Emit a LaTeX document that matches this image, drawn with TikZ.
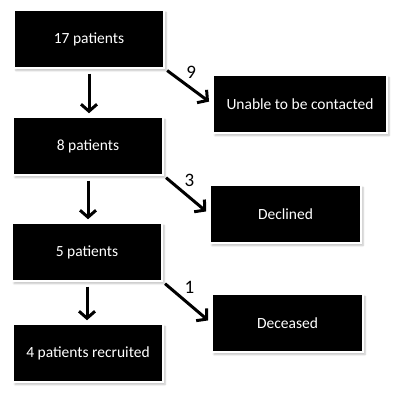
\documentclass[tikz,border=0pt]{standalone}
\usepackage{fontspec}
\setmainfont{Carlito}
\usetikzlibrary{arrows.meta, shadows.blur}

\begin{document}
\begin{tikzpicture}[x=1pt, y=-1pt,
    stage/.style={
        fill=black, draw=white, line width=1.5pt, text=white,
        minimum width=150pt, minimum height=58pt, inner sep=0pt,
        font=\fontsize{15.5}{18}\selectfont,
        blur shadow={shadow blur steps=5, shadow blur extra rounding=0pt,
                     shadow xshift=2pt, shadow yshift=-2.5pt, shadow opacity=25}
    },
    flow/.style={-{Straight Barb[length=7pt, width=16pt, line width=3pt]},
                 line width=3pt, black},
    count/.style={font=\fontsize{19}{21}\selectfont, text=black, inner sep=1pt},
]
    \useasboundingbox (0,0) rectangle (400,395);

    % --- main column ---
    \node[stage] (all)      at (89,39)  {17 patients};
    \node[stage] (reached)  at (88,146) {8 patients};
    \node[stage] (willing)  at (87,252) {5 patients};
    \node[stage] (recruit)  at (88,353) {4 patients recruited};

    % --- exclusions ---
    \node[stage, minimum width=174pt] (lost)    at (300,104)   {Unable to be contacted};
    \node[stage, minimum width=151pt] (refused) at (285.5,214) {Declined};
    \node[stage, minimum width=151pt] (died)    at (287.5,323) {Deceased};

    % --- arrows down ---
    \draw[flow, shorten <=5pt, shorten >=3pt] (all.south) -- (all.south |- reached.north);
    \draw[flow, shorten <=5pt, shorten >=3pt] (reached.south) -- (reached.south |- willing.north);
    \draw[flow, shorten <=5pt, shorten >=3pt] (willing.south) -- (willing.south |- recruit.north);

    % --- arrows out ---
    \draw[flow, shorten <=3pt, shorten >=4pt] (all.south east) -- (lost.west)
          node[count, pos=0.38, above right=1pt] {9};
    \draw[flow, shorten <=3pt, shorten >=4pt] (reached.south east) -- (refused.west)
          node[count, pos=0.38, above right=1pt] {3};
    \draw[flow, shorten <=3pt, shorten >=4pt] (willing.south east) -- (died.west)
          node[count, pos=0.38, above right=1pt] {1};

\end{tikzpicture}
\end{document}
